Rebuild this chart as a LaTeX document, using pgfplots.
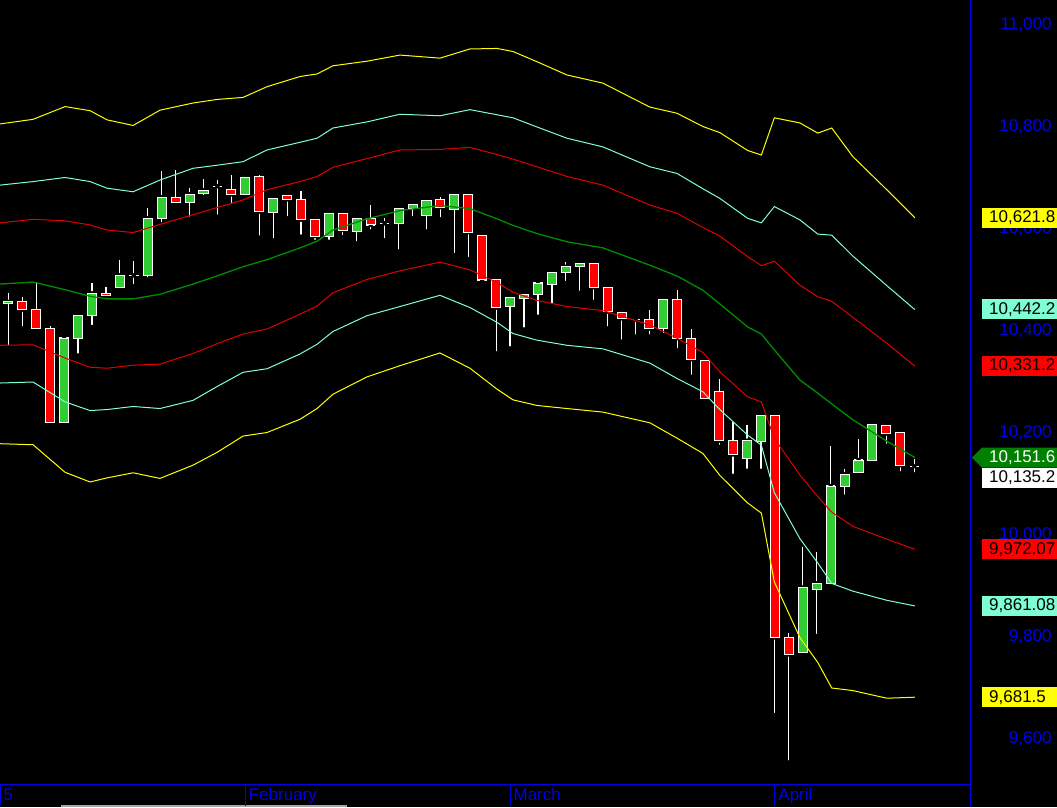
\documentclass[border=0pt]{standalone}
\usepackage{fontspec}
\setmainfont{Liberation Sans}
\usepackage{pgfplots}
\usepackage{pgfplotstable}
\pgfplotsset{compat=1.18}

\definecolor{upgreen}{RGB}{50,205,50}
\definecolor{downred}{RGB}{255,0,0}
\definecolor{bandyellow}{RGB}{255,255,0}
\definecolor{bandaqua}{RGB}{127,255,212}
\definecolor{bandred}{RGB}{225,0,0}
\definecolor{bandgreen}{RGB}{0,140,0}
\definecolor{axisblue}{RGB}{0,0,235}
\definecolor{tagred}{RGB}{255,0,0}
\definecolor{taggreen}{RGB}{0,128,0}

% daily candles, i = trading day index
\pgfplotstableread{
i o h l c
0 10454 10474 10368 10457
4 10221 10386 10220 10386
5 10386 10431 10352 10431
6 10431 10494 10408 10474
8 10486 10539 10486 10509
9 10509 10537 10488 10509
10 10509 10641 10501 10621
11 10621 10714 10609 10662
13 10652 10680 10620 10668
14 10670 10698 10662 10676
15 10684 10696 10624 10684
17 10668 10701 10665 10701
19 10633 10660 10578 10660
23 10585 10631 10575 10631
25 10596 10620 10572 10620
27 10611 10621 10578 10611
28 10611 10640 10556 10640
29 10640 10648 10621 10648
30 10627 10655 10595 10655
32 10639 10668 10549 10668
36 10448 10466 10366 10466
37 10464 10472 10403 10472
38 10472 10494 10428 10494
39 10492 10515 10451 10515
40 10515 10536 10494 10526
41 10527 10536 10475 10533
45 10422 10422 10389 10422
47 10405 10462 10392 10462
53 10150 10216 10126 10185
54 10184 10234 10126 10234
57 9770 9977 9768 9897
58 9894 9966 9802 9905
59 9905 10175 9899 10096
60 10096 10129 10075 10119
61 10123 10188 10123 10147
62 10147 10216 10147 10216
65 10135 10149 10119 10135
}\upcandles

\pgfplotstableread{
i o h l c
1 10458 10467 10405 10442
2 10442 10496 10402 10405
3 10405 10410 10220 10221
7 10474 10486 10461 10469
12 10662 10716 10648 10652
16 10678 10706 10647 10668
18 10702 10706 10583 10634
20 10665 10665 10621 10658
21 10658 10675 10585 10618
22 10619 10619 10575 10586
24 10631 10631 10584 10598
26 10621 10647 10595 10608
31 10658 10663 10619 10643
33 10668 10668 10541 10594
34 10588 10588 10497 10500
35 10500 10500 10356 10446
42 10533 10533 10457 10486
43 10486 10486 10405 10438
44 10437 10437 10379 10425
46 10423 10441 10389 10405
48 10462 10480 10362 10386
49 10386 10403 10310 10345
50 10342 10342 10265 10268
51 10281 10305 10173 10185
52 10185 10222 10116 10158
55 10234 10234 9647 9799
56 9799 9807 9554 9766
63 10214 10214 10175 10199
64 10201 10201 10121 10137
}\downcandles

% moving average and fibonacci bands
\pgfplotstableread{
i mid ru au yu rl al yl
-0.60 10492 10612 10686 10806 10372 10298 10179
1.77 10496 10619 10693 10815 10373 10300 10177
4.07 10481 10616 10701 10840 10347 10261 10123
5.86 10468 10608 10693 10832 10329 10244 10104
7.08 10463 10598 10680 10814 10327 10246 10112
8.95 10463 10593 10673 10803 10333 10252 10122
10.88 10472 10609 10696 10833 10335 10248 10111
13.25 10492 10628 10719 10847 10356 10264 10137
14.97 10508 10642 10725 10854 10375 10291 10162
16.84 10526 10657 10732 10858 10394 10319 10194
18.56 10540 10677 10755 10879 10404 10326 10201
20.93 10563 10693 10770 10899 10433 10355 10227
22.15 10576 10703 10778 10904 10449 10374 10248
23.29 10598 10721 10798 10920 10475 10399 10276
25.73 10620 10738 10810 10929 10501 10430 10310
28.10 10636 10755 10825 10941 10518 10448 10332
30.97 10646 10756 10822 10935 10535 10470 10357
33.12 10640 10760 10834 10953 10520 10446 10327
35.06 10620 10746 10824 10954 10495 10417 10286
36.21 10607 10737 10818 10948 10476 10395 10265
37.93 10591 10722 10800 10928 10460 10382 10254
40.08 10575 10703 10778 10902 10448 10372 10248
42.66 10563 10686 10761 10886 10440 10365 10241
46.03 10529 10647 10722 10839 10412 10337 10220
47.97 10508 10631 10709 10827 10386 10307 10190
49.83 10480 10603 10679 10801 10358 10281 10160
51.05 10453 10586 10660 10789 10320 10246 10117
53.04 10408 10546 10621 10754 10271 10196 10063
54.03 10394 10528 10612 10745 10261 10176 10043
54.96 10363 10537 10644 10818 10189 10083 9908
56.79 10304 10490 10618 10808 10118 9993 9799
58.08 10278 10467 10590 10788 10075 9945 9750
59.08 10257 10458 10588 10798 10045 9905 9700
60.59 10226 10427 10547 10742 10017 9890 9695
63.03 10184 10376 10489 10677 9992 9872 9680
65.04 10152 10331 10442 10622 9972 9861 9682
}\bands

\newcommand{\chartfont}{\fontsize{17}{17}\selectfont}
\pgfplotsset{
  frame/.style={width=970pt, height=784pt, scale only axis,
    xmin=-0.6, xmax=69, ymin=9511.8, ymax=11049},
  hidden/.style={frame, hide axis},
  wick/.style={only marks, mark=none,
    error bars/.cd, y dir=plus, y explicit, error mark=none,
    error bar style={draw=white, line width=1.2pt}},
  closeline/.style={only marks, mark=none,
    error bars/.cd, x dir=both, x fixed=0.34, error mark=none,
    error bar style={draw=white, line width=1.3pt}},
}
\tikzset{
  pricetag/.style={anchor=west, inner xsep=7pt, inner ysep=0pt,
    minimum height=20pt, text width=86pt, align=left, text=black,
    font=\chartfont},
}

\begin{document}
\begin{tikzpicture}
\path[use as bounding box, fill=black] (0pt,-23pt) rectangle (1057pt,784pt);
\fill[black!35] (61pt,-23pt) rectangle (347pt,-21pt);

% wicks, and a short line at the close so that doji candles show as crosses
\begin{axis}[hidden]
  \addplot[wick] table[x=i, y=l, y error expr=\thisrow{h}-\thisrow{l}] {\upcandles};
  \addplot[wick] table[x=i, y=l, y error expr=\thisrow{h}-\thisrow{l}] {\downcandles};
  \addplot[closeline] table[x=i, y=c] {\upcandles};
  \addplot[closeline] table[x=i, y=c] {\downcandles};
\end{axis}

% rising bodies
\begin{axis}[hidden, ybar stacked, bar width=0.65]
  \addplot[draw=none, fill=none] table[x=i, y=o] {\upcandles};
  \addplot[draw=white, fill=upgreen, line width=1pt]
    table[x=i, y expr=\thisrow{c}-\thisrow{o}] {\upcandles};
\end{axis}

% falling bodies
\begin{axis}[hidden, ybar stacked, bar width=0.65]
  \addplot[draw=none, fill=none] table[x=i, y=c] {\downcandles};
  \addplot[draw=white, fill=downred, line width=1pt]
    table[x=i, y expr=\thisrow{o}-\thisrow{c}] {\downcandles};
\end{axis}

% bands, axes and ticks
\begin{axis}[frame,
    axis x line*=bottom, axis y line*=right,
    axis line style={axisblue, line width=1pt, -},
    xtick={-0.6,17,36,55}, xticklabels={5,February,March,April},
    tick align=outside, major tick length=22pt,
    xtick style={axisblue, line width=1pt},
    ytick={9600,9800,...,11000}, ytick style={draw=none},
    scaled y ticks=false,
    ticklabel style={text=axisblue, font=\chartfont},
    xticklabel style={anchor=base west, xshift=0pt, yshift=6pt},
    yticklabel style={anchor=east, xshift=63pt,
      /pgf/number format/assume math mode=true,
      /pgf/number format/1000 sep={,}},
  ]
  \addplot[bandyellow, line width=1pt] table[x=i, y=yu] {\bands};
  \addplot[bandaqua, line width=1pt] table[x=i, y=au] {\bands};
  \addplot[bandred, line width=1pt] table[x=i, y=ru] {\bands};
  \addplot[bandgreen, line width=1.3pt] table[x=i, y=mid] {\bands};
  \addplot[bandred, line width=1pt] table[x=i, y=rl] {\bands};
  \addplot[bandaqua, line width=1pt] table[x=i, y=al] {\bands};
  \addplot[bandyellow, line width=1pt] table[x=i, y=yl] {\bands};
\end{axis}

% right edge line below the axis and the last value tags
% (y in pt = (value - 9511.8) * 0.51)
\draw[axisblue, line width=1pt] (970pt,0pt) -- (970pt,-23pt);
\node[pricetag, fill=bandyellow] at (982pt,566.1pt) {10,621.8};
\node[pricetag, fill=bandaqua] at (982pt,474.5pt) {10,442.2};
\node[pricetag, fill=tagred] at (982pt,417.9pt) {10,331.2};
\fill[taggreen] (972pt,326.3pt) -- (982pt,336.3pt) -- (1080pt,336.3pt)
  -- (1080pt,316.3pt) -- (982pt,316.3pt) -- cycle;
\node[pricetag, text=white] at (982pt,326.3pt) {10,151.6};
\node[pricetag, fill=white] at (982pt,306.3pt) {10,135.2};
\node[pricetag, fill=tagred] at (982pt,234.7pt) {9,972.07};
\node[pricetag, fill=bandaqua] at (982pt,178.1pt) {9,861.08};
\node[pricetag, fill=bandyellow] at (982pt,86.6pt) {9,681.5};
\end{tikzpicture}
\end{document}
